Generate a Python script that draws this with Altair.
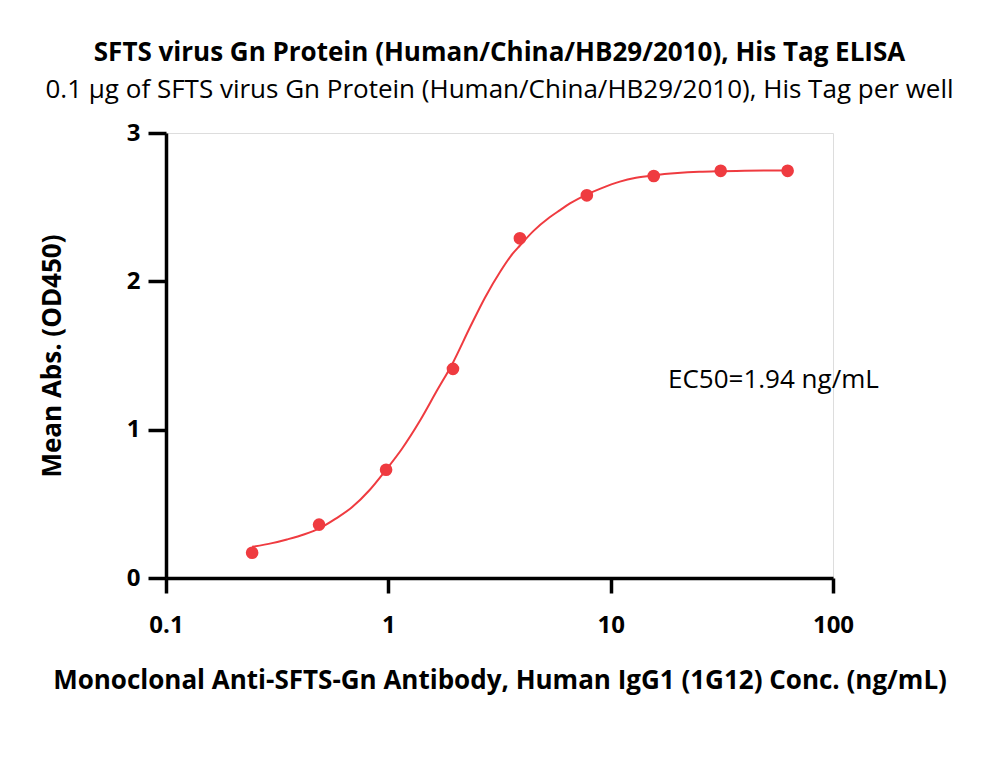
import altair as alt
import pandas as pd

# Measured points (ng/mL, OD450)
conc = [0.244, 0.488, 0.977, 1.953, 3.906, 7.813, 15.625, 31.25, 62.5]
od = [0.17, 0.36, 0.73, 1.41, 2.29, 2.58, 2.71, 2.745, 2.745]

# Fitted curve
fit_conc = [0.244, 0.30, 0.35, 0.42, 0.49, 0.58, 0.69, 0.82, 0.977, 1.15, 1.40,
            1.65, 1.95, 2.33, 2.72, 3.2, 3.64, 3.9, 4.5, 5.3, 5.92, 6.56, 7.8,
            9.0, 11.0, 13.0, 15.6, 20, 25, 31.25, 40, 50, 62.5]
fit_od = [0.21, 0.235, 0.26, 0.295, 0.335, 0.40, 0.48, 0.59, 0.73, 0.87, 1.07,
          1.26, 1.45, 1.69, 1.89, 2.07, 2.19, 2.24, 2.34, 2.43, 2.48, 2.525, 2.585,
          2.625, 2.672, 2.698, 2.715, 2.73, 2.738, 2.742, 2.745, 2.747, 2.748]

x_ticks = [0.1, 1, 10, 100]
y_ticks = [0, 1, 2, 3]

ec50_label = ["EC50=1.94 ng/mL"]
ec50_pos_x = [18.1]
ec50_pos_y = [1.335]

FONT = "Open Sans"
RED = "#EF3B40"

pts = pd.DataFrame({"conc": conc, "od": od})
fit = pd.DataFrame({"conc": fit_conc, "od": fit_od})
ann = pd.DataFrame({"conc": ec50_pos_x, "od": ec50_pos_y, "t": ec50_label})

xscale = alt.Scale(type="log", domain=[0.1, 100])
yscale = alt.Scale(domain=[0, 3])

xaxis = alt.Axis(
    values=x_ticks, format="~g",
    title="Monoclonal Anti-SFTS-Gn Antibody, Human IgG1 (1G12) Conc. (ng/mL)",
    titleFont=FONT, titleFontSize=26, titleFontWeight="bold", titleColor="black",
    titleY=102, titleBaseline="middle",
    labelFont=FONT, labelFontSize=24, labelFontWeight="bold", labelColor="black",
    labelPadding=20, labelFlush=False, labelOverlap=False,
    tickSize=15, tickWidth=3.5, tickColor="black",
    domainColor="black", domainWidth=3.5, grid=False,
)
yaxis = alt.Axis(
    values=y_ticks,
    title="Mean Abs. (OD450)",
    titleFont=FONT, titleFontSize=26, titleFontWeight="bold", titleColor="black",
    titleX=-114, titleY=222.5, titleAlign="center", titleBaseline="middle", titleAngle=-90,
    labelFont=FONT, labelFontSize=24, labelFontWeight="bold", labelColor="black",
    labelPadding=8, labelFlush=False,
    tickSize=18, tickWidth=3.5, tickColor="black",
    domainColor="black", domainWidth=3.5, grid=False,
)

X = alt.X("conc:Q", scale=xscale, axis=xaxis)
Y = alt.Y("od:Q", scale=yscale, axis=yaxis)

line = alt.Chart(fit).mark_line(color=RED, strokeWidth=2, interpolate="monotone").encode(x=X, y=Y)
dots = alt.Chart(pts).mark_circle(color=RED, size=160, opacity=1).encode(x=X, y=Y)
text = alt.Chart(ann).mark_text(align="left", baseline="middle", font=FONT, fontSize=26,
                                color="black").encode(x=X, y=Y, text="t:N")

chart = alt.layer(line, dots, text).properties(
    width=667, height=445,
    title=alt.TitleParams(
        text="SFTS virus Gn Protein (Human/China/HB29/2010), His Tag ELISA",
        subtitle="0.1 µg of SFTS virus Gn Protein (Human/China/HB29/2010), His Tag per well",
        font=FONT, fontSize=26, fontWeight="bold", color="black",
        subtitleFont=FONT, subtitleFontSize=26, subtitleColor="black",
        subtitlePadding=11, anchor="middle", offset=18,
    ),
    autosize=alt.AutoSizeParams(type="none"),
    padding={"left": 166, "top": 133, "right": 167, "bottom": 189},
).configure_view(stroke=None).configure(background="white")

chart.save("out.html", embed_options={"renderer": "svg", "actions": False})
